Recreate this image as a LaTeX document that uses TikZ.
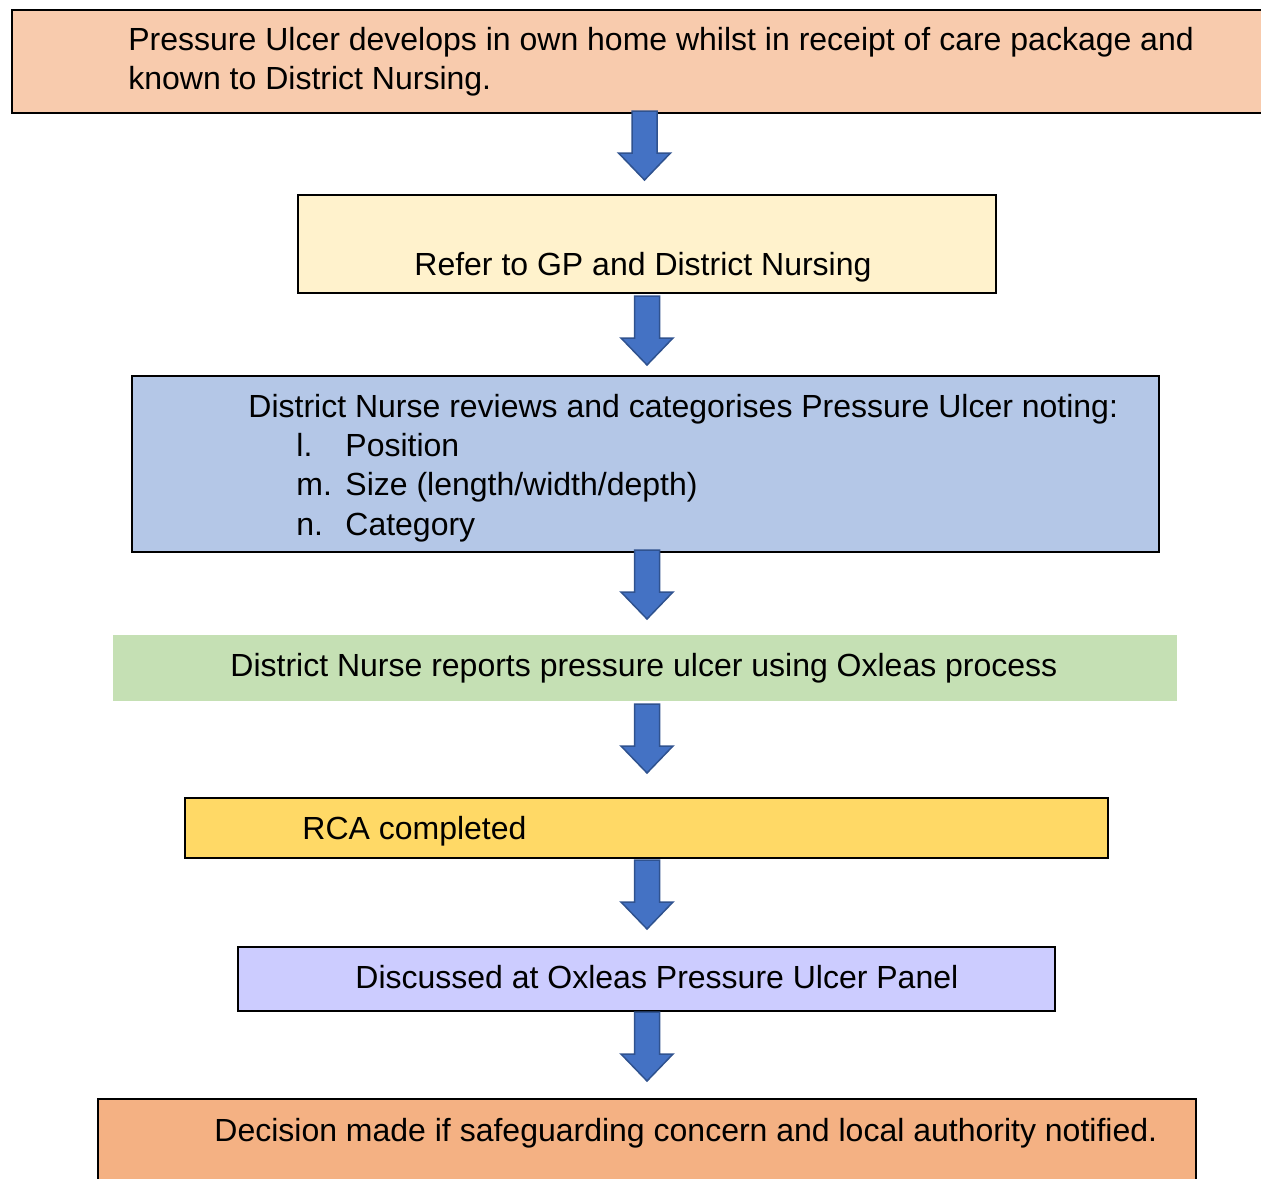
\documentclass[tikz,border=0pt]{standalone}
\usepackage{fontspec}
\setmainfont{Liberation Sans}
\usetikzlibrary{fit}
\definecolor{peach}{HTML}{F8CBAD}
\definecolor{cream}{HTML}{FFF2CC}
\definecolor{paleblue}{HTML}{B4C7E7}
\definecolor{palegreen}{HTML}{C5E0B4}
\definecolor{gold}{HTML}{FFD966}
\definecolor{lavender}{HTML}{CCCCFF}
\definecolor{apricot}{HTML}{F4B183}
\definecolor{arrowfill}{HTML}{4472C4}
\definecolor{arrowedge}{HTML}{2F528F}
\tikzset{
  box/.style={draw=black, line width=1pt, inner sep=0pt},
  plainbox/.style={draw=none, inner sep=0pt},
  label/.style={anchor=base west, inner sep=0pt, font=\fontsize{16pt}{19.5pt}\selectfont, align=left},
  blockarrow/.style={fill=arrowfill, draw=arrowedge, line width=0.75pt, line join=miter},
  downarrow/.pic={
    \path[blockarrow] (-12.5,0) -- (12.5,0) -- (12.5,42) -- (26,42) -- (0,69)
      -- (-26,42) -- (-12.5,42) -- cycle;
  }
}
\begin{document}
\begin{tikzpicture}[x=0.5pt, y=-0.5pt]
  \useasboundingbox (0,0) rectangle (1261,1178);
  \clip (0,0) rectangle (1261,1178);

  % boxes of the flow, top to bottom
  \node[box, fill=peach, fit={(12,10)(1275,113)}] (start) {};
  \node[box, fill=cream, fit={(298,195)(996,293)}] (refer) {};
  \node[box, fill=paleblue, fit={(132,376)(1159,552)}] (review) {};
  \node[plainbox, fill=palegreen, fit={(113,635)(1177,701)}] (report) {};
  \node[box, fill=gold, fit={(185,798)(1108,858)}] (rca) {};
  \node[box, fill=lavender, fit={(238,947)(1055,1011)}] (panel) {};
  \node[box, fill=apricot, fit={(98,1099)(1196,1200)}] (decision) {};

  % texts (a two-line node sits on the baseline of its last line)
  \node[label] (starttext) at (128,89) {Pressure Ulcer develops in own home whilst in receipt of care package and\\known to District Nursing.};
  \node[label] (refertext) at (414,275) {Refer to GP and District Nursing};
  \node[label] (reviewtext) at (248,417) {District Nurse reviews and categorises Pressure Ulcer noting:};
  \node[label] (itemla) at (296,456) {l.};
  \node[label] (itemlb) at (345,456) {Position};
  \node[label] (itemma) at (296,495) {m.};
  \node[label] (itemmb) at (345,495) {Size (length/width/depth)};
  \node[label] (itemna) at (296,535) {n.};
  \node[label] (itemnb) at (345,535) {Category};
  \node[label] (reporttext) at (230,676) {District Nurse reports pressure ulcer using Oxleas process};
  \node[label] (rcatext) at (302,839) {RCA completed};
  \node[label] (paneltext) at (355,988) {Discussed at Oxleas Pressure Ulcer Panel};
  \node[label] (decisiontext) at (214,1141) {Decision made if safeguarding concern and local authority notified.};

  % block arrows between the boxes
  \pic at (644.5,111) {downarrow};
  \pic at (647,296) {downarrow};
  \pic at (647,550) {downarrow};
  \pic at (647,704) {downarrow};
  \pic at (647,860) {downarrow};
  \pic at (647,1012) {downarrow};
\end{tikzpicture}
\end{document}
